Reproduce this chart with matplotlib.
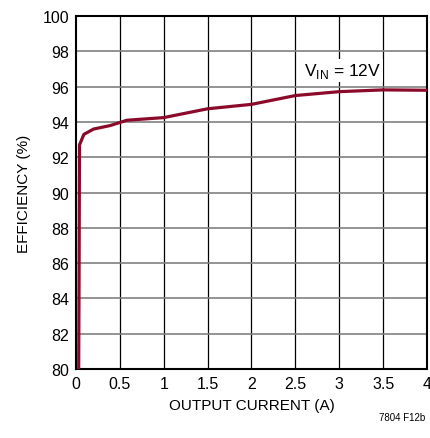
import matplotlib
matplotlib.use('Agg')
import matplotlib.pyplot as plt

# efficiency curve, VIN = 12V
current = [0.03, 0.035, 0.04, 0.09, 0.2, 0.39, 0.58, 1.0, 1.5, 2.0, 2.5, 3.0, 3.5, 4.0]
efficiency = [79.0, 85.0, 92.7, 93.3, 93.6, 93.8, 94.1, 94.25, 94.75, 95.0, 95.5, 95.72, 95.82, 95.8]

xticks = [0, 0.5, 1, 1.5, 2, 2.5, 3, 3.5, 4]
xticklabels = ['0', '0.5', '1', '1.5', '2', '2.5', '3', '3.5', '4']
yticks = list(range(80, 101, 2))

plt.rcParams['font.family'] = ['Liberation Sans Narrow', 'Liberation Sans', 'DejaVu Sans']
plt.rcParams['mathtext.fontset'] = 'custom'
plt.rcParams['mathtext.rm'] = 'Liberation Sans'

fig = plt.figure(figsize=(4.3, 4.39), dpi=100)
ax = fig.add_axes([0.1767, 0.157, 0.8163, 0.804])

for x in xticks[1:-1]:
    ax.axvline(x, color='black', lw=0.9, zorder=1)
for y in yticks[1:-1]:
    ax.axhline(y, color='#808080', lw=1.2, zorder=1)

ax.plot(current, efficiency, color='#8b0a2a', lw=2.3, zorder=3, solid_joinstyle='round')

ax.set_xlim(0, 4)
ax.set_ylim(80, 100)
ax.set_xticks(xticks)
ax.set_xticklabels(xticklabels)
ax.set_yticks(yticks)
ax.tick_params(length=0, labelsize=11.5, pad=5)
for s in ax.spines.values():
    s.set_linewidth(1.5)
    s.set_color('black')

ax.set_xlabel('OUTPUT CURRENT (A)', fontsize=11, labelpad=5)
ax.set_ylabel('EFFICIENCY (%)', fontsize=11, labelpad=8)

ax.text(2.6, 96.9, r'V$_{\mathrm{IN}}$ = 12V', fontsize=12.5, va='center', ha='left',
        zorder=4, bbox=dict(facecolor='white', edgecolor='none', pad=1.5))
fig.text(0.99, 0.048, '7804 F12b', fontsize=7, ha='right', va='center')

fig.savefig('out.png', dpi=100)
